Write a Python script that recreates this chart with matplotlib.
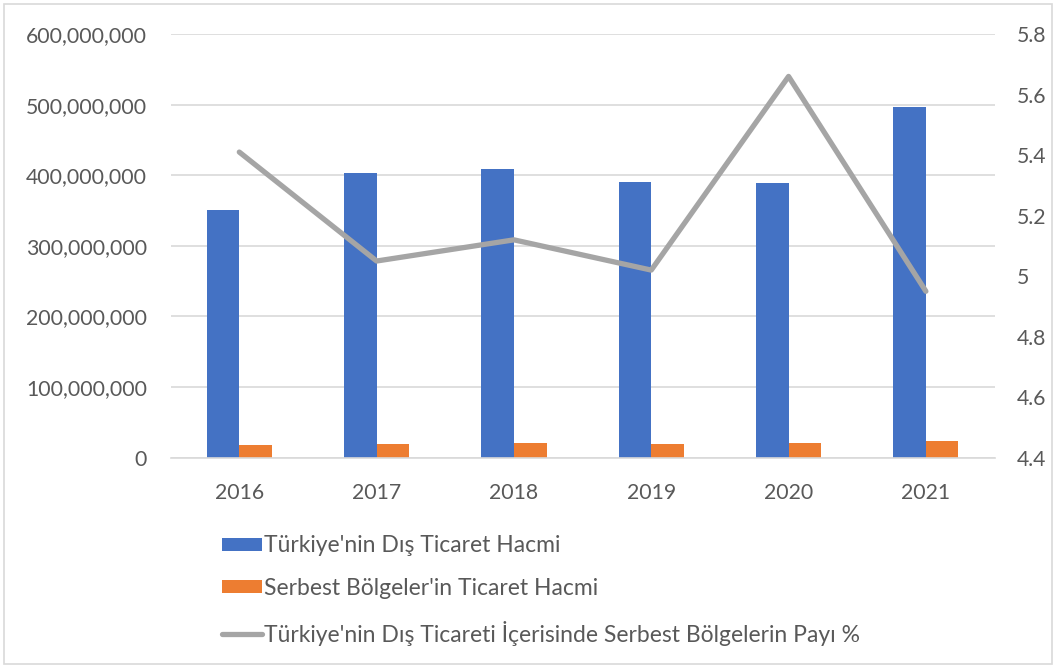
import numpy as np
import matplotlib.pyplot as plt
from matplotlib.ticker import FuncFormatter, MultipleLocator
from matplotlib.patches import Rectangle

plt.rcParams['font.family'] = ['Lato', 'DejaVu Sans']

# veriler
years = ["2016", "2017", "2018", "2019", "2020", "2021"]
dis_ticaret = [351e6, 403e6, 408.5e6, 391e6, 389e6, 496e6]
serbest_bolge = [18e6, 19.4e6, 20.4e6, 19e6, 20.8e6, 24e6]
pay = [5.41, 5.05, 5.12, 5.02, 5.66, 4.95]

labels = ["Türkiye'nin Dış Ticaret Hacmi",
          "Serbest Bölgeler'in Ticaret Hacmi",
          "Türkiye'nin Dış Ticareti İçerisinde Serbest Bölgelerin Payı %"]

Fontsize = 15.3
text_color = "#595959"
grid_color = "#D9D9D9"

fig = plt.figure(figsize=(10.56, 6.68), dpi=100)
ax = fig.add_axes([0.1616, 0.3148, 0.7802, 0.6342])
ax2 = ax.twinx()

x = np.arange(len(years))
w = 0.2375
b1 = ax.bar(x - w / 2, dis_ticaret, w, color="#4472C4", label=labels[0], zorder=2)
b2 = ax.bar(x + w / 2, serbest_bolge, w, color="#ED7D31", label=labels[1], zorder=2)
l1, = ax2.plot(x, pay, color="#A5A5A5", linewidth=3.8, solid_capstyle="round",
               label=labels[2])

ax.set_xlim(-0.5, len(years) - 0.5)
ax.set_ylim(0, 600e6)
ax.yaxis.set_major_locator(MultipleLocator(100e6))
ax.yaxis.set_major_formatter(FuncFormatter(lambda v, p: f"{v:,.0f}"))
ax2.set_ylim(4.4, 5.8)
ax2.yaxis.set_major_locator(MultipleLocator(0.2))
ax2.yaxis.set_major_formatter(FuncFormatter(lambda v, p: f"{round(v, 1):g}"))

ax.set_xticks(x)
ax.set_xticklabels(years)
ax.grid(axis="y", color=grid_color, linewidth=1.2, zorder=0)
ax.set_axisbelow(True)

for a in (ax, ax2):
    for s in a.spines.values():
        s.set_visible(False)
    a.tick_params(length=0, labelsize=Fontsize, colors=text_color)
ax.spines["bottom"].set_visible(True)
ax.spines["bottom"].set_color(grid_color)
ax.spines["bottom"].set_linewidth(1.2)
ax.tick_params(axis="y", pad=17)
ax.tick_params(axis="x", pad=18)
ax2.tick_params(axis="y", pad=16)

fig.legend(handles=[b1, b2, l1], labels=labels, loc="upper left",
           bbox_to_anchor=(0.199, 0.216), frameon=False, fontsize=16.5,
           handlelength=1.75, handleheight=0.5, handletextpad=0.08,
           labelspacing=0.95, labelcolor=text_color, borderpad=0)

fig.patches.append(Rectangle((0.004, 0.006), 0.992, 0.988, transform=fig.transFigure,
                             fill=False, edgecolor=grid_color, linewidth=1.2))

fig.savefig("out.png", dpi=100)
